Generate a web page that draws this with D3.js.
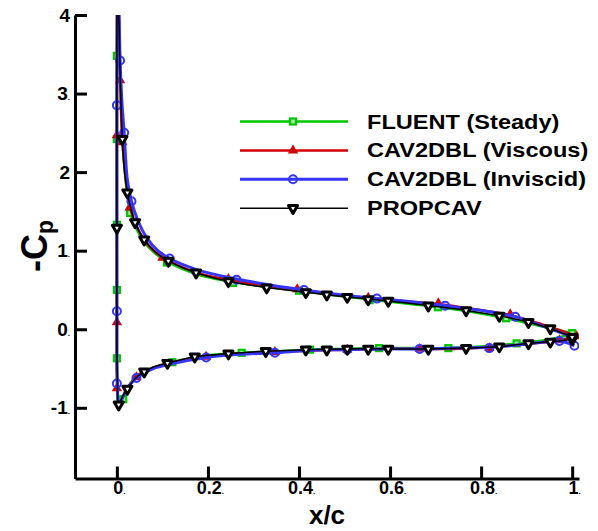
<!DOCTYPE html>
<html>
<head>
<meta charset="utf-8">
<script src="https://cdn.jsdelivr.net/npm/d3@7"></script>
<style>
  body { margin: 0; background: #fff; }
  svg { display: block; }
  text { font-family: "Liberation Sans", Arial, Helvetica, sans-serif; font-weight: bold; fill: #000; }
</style>
</head>
<body>
<svg id="chart" width="598" height="531"></svg>
<script>
// x/c and -Cp: lower surface TE -> LE, then round the nose and along the upper surface
const fluentLine = [[1.0,-0.06],[0.95,-0.13],[0.878,-0.18],[0.80,-0.22],[0.728,-0.24],[0.65,-0.24],[0.576,-0.24],[0.50,-0.25],[0.424,-0.26],[0.35,-0.28],[0.274,-0.30],[0.20,-0.33],[0.122,-0.42],[0.08,-0.49],[0.05,-0.57],[0.03,-0.69],[0.014,-0.88],[0.004,-0.98],
  [0.001,-0.6],[0.0,-0.37],[0.0,0.5],[0.0,1.33],[0.0,2.42],[0.0,3.48],[0.001,4.6],[0.004,4.0],[0.008,3.1],[0.013,2.35],[0.02,1.85],[0.029,1.5],[0.04,1.31],[0.06,1.11],[0.085,0.96],[0.11,0.86],[0.17,0.71],[0.255,0.60],[0.33,0.54],[0.40,0.49],[0.48,0.43],[0.555,0.38],[0.63,0.33],[0.705,0.28],[0.78,0.22],[0.855,0.14],[0.93,0.04],[1.0,-0.05]];
const fluentMarks = [[0.0,3.48],[0.0,2.42],[0.0,1.33],[0.0,0.50],[0.0,-0.37],[0.014,-0.89],[0.029,1.48],[0.11,0.85],[0.255,0.59],[0.40,0.49],[0.555,0.37],[0.705,0.28],[0.855,0.14],[1.0,-0.05],[0.122,-0.42],[0.274,-0.30],[0.424,-0.26],[0.576,-0.24],[0.728,-0.24],[0.878,-0.18]];

const viscousLine = [[1.01,-0.09],[0.972,-0.14],[0.90,-0.19],[0.818,-0.23],[0.74,-0.25],[0.665,-0.25],[0.58,-0.25],[0.506,-0.26],[0.42,-0.27],[0.347,-0.29],[0.27,-0.31],[0.196,-0.35],[0.12,-0.43],[0.08,-0.49],[0.043,-0.60],[0.02,-0.78],[0.005,-0.95],
  [0.001,-0.75],[0.0,0.09],[0.0,1.3],[0.0,2.47],[0.0,3.6],[0.001,4.6],[0.004,4.05],[0.007,3.2],[0.012,2.38],[0.02,1.88],[0.028,1.57],[0.04,1.36],[0.06,1.14],[0.085,0.98],[0.10,0.92],[0.17,0.73],[0.245,0.63],[0.32,0.56],[0.396,0.51],[0.47,0.45],[0.552,0.40],[0.63,0.36],[0.706,0.32],[0.79,0.25],[0.864,0.18],[0.94,0.05],[1.01,-0.09]];
const viscousMarks = [[0.007,3.17],[0.0,2.47],[0.012,2.38],[0.028,1.55],[0.10,0.91],[0.245,0.64],[0.396,0.51],[0.552,0.40],[0.706,0.33],[0.864,0.19],[1.01,-0.09],[0.0,0.09],[0.0,-0.75],[0.043,-0.61],[0.196,-0.35],[0.347,-0.29],[0.506,-0.26],[0.665,-0.25],[0.818,-0.24],[0.972,-0.14]];

const inviscidLine = [[1.005,-0.21],[0.972,-0.15],[0.90,-0.19],[0.818,-0.23],[0.74,-0.24],[0.665,-0.25],[0.58,-0.25],[0.506,-0.26],[0.42,-0.27],[0.347,-0.30],[0.27,-0.32],[0.196,-0.36],[0.12,-0.44],[0.08,-0.50],[0.043,-0.62],[0.02,-0.78],[0.005,-0.95],
  [0.001,-0.69],[0.0,0.23],[0.0,1.3],[0.0,2.85],[0.001,3.8],[0.002,4.6],[0.005,4.0],[0.007,3.42],[0.011,2.9],[0.016,2.5],[0.023,1.9],[0.032,1.63],[0.045,1.40],[0.065,1.17],[0.09,1.0],[0.116,0.90],[0.18,0.75],[0.263,0.64],[0.34,0.56],[0.411,0.50],[0.49,0.44],[0.571,0.39],[0.645,0.35],[0.721,0.30],[0.80,0.24],[0.875,0.16],[0.94,0.03],[1.01,-0.12]];
const inviscidMarks = [[0.007,3.42],[0.0,2.85],[0.016,2.50],[0.032,1.63],[0.116,0.90],[0.263,0.63],[0.411,0.50],[0.571,0.39],[0.721,0.30],[0.875,0.16],[0.0,0.23],[0.0,-0.69],[0.043,-0.62],[0.196,-0.36],[0.347,-0.30],[0.506,-0.26],[0.665,-0.25],[0.818,-0.24],[0.972,-0.15],[1.005,-0.21]];

const propcavLine = [[1.0,-0.13],[0.952,-0.16],[0.904,-0.18],[0.84,-0.22],[0.767,-0.24],[0.684,-0.25],[0.596,-0.25],[0.506,-0.25],[0.415,-0.26],[0.327,-0.28],[0.245,-0.31],[0.171,-0.35],[0.111,-0.43],[0.08,-0.48],[0.06,-0.54],[0.04,-0.63],[0.023,-0.76],[0.012,-0.86],[0.004,-0.96],
  [0.001,-0.6],[0.0,0.5],[0.0,1.29],[0.0,2.5],[0.0,3.5],[0.001,4.6],[0.004,4.1],[0.007,3.3],[0.012,2.42],[0.017,2.0],[0.023,1.74],[0.03,1.55],[0.04,1.36],[0.06,1.14],[0.085,0.98],[0.113,0.87],[0.174,0.72],[0.245,0.61],[0.329,0.53],[0.415,0.47],[0.506,0.41],[0.596,0.36],[0.684,0.30],[0.767,0.24],[0.84,0.17],[0.904,0.09],[0.952,0.01],[1.0,-0.10]];
const propcavMarks = [[1.0,-0.13],[0.952,-0.16],[0.904,-0.18],[0.84,-0.22],[0.767,-0.24],[0.684,-0.25],[0.596,-0.25],[0.552,-0.25],[0.506,-0.25],[0.461,-0.26],[0.415,-0.26],[0.327,-0.28],[0.245,-0.31],[0.171,-0.35],[0.111,-0.43],[0.06,-0.54],[0.023,-0.76],[0.004,-0.96],
  [0.0,1.29],[0.012,2.42],[0.023,1.74],[0.04,1.36],[0.06,1.14],[0.113,0.87],[0.174,0.72],[0.245,0.61],[0.329,0.53],[0.415,0.47],[0.461,0.44],[0.506,0.41],[0.552,0.38],[0.596,0.36],[0.684,0.30],[0.767,0.24],[0.84,0.17],[0.904,0.09],[0.952,0.01],[1.0,-0.10]];

const legendNames = ["FLUENT (Steady)", "CAV2DBL (Viscous)", "CAV2DBL (Inviscid)", "PROPCAV"];
const xMajor = [0, 0.2, 0.4, 0.6, 0.8, 1];
const xLabels = ["0", "0.2", "0.4", "0.6", "0.8", "1"];
const yMajor = [-1, 0, 1, 2, 3, 4];
const yLabels = ["-1", "0", "1", "2", "3", "4"];
const yDots = [true, true, true, false, true, false];

const svg = d3.select("#chart");
const x = d3.scaleLinear().domain([-0.092, 1.015]).range([75, 579]);
const y = d3.scaleLinear().domain([-1.9, 4]).range([478.5, 15]);

const xMinor = d3.range(-0.05, 1.0001, 0.05).filter(v => Math.abs(v * 5 - Math.round(v * 5)) > 1e-6);
const yMinor = d3.range(-1.8, 3.9, 0.2).filter(v => Math.abs(v - Math.round(v)) > 1e-6);

// axes, ticks pointing into the plot
const gx = svg.append("g").attr("transform", `translate(0,${y(-1.9)})`);
gx.call(d3.axisBottom(x).tickValues(xMinor).tickSizeInner(-6).tickSizeOuter(0).tickFormat(""));
gx.call(d3.axisBottom(x).tickValues(xMajor).tickSizeInner(-12).tickSizeOuter(0).tickPadding(3));
gx.selectAll(".tick text").each(function (d) {
  const t = d3.select(this).text(xLabels[xMajor.indexOf(d)]).attr("font-size", 18).attr("dx", 2);
  t.append("tspan").attr("font-size", 8).text(".");
});

const gy = svg.append("g").attr("transform", `translate(${x(-0.092)},0)`);
gy.call(d3.axisLeft(y).tickValues(yMinor).tickSizeInner(-6).tickSizeOuter(0).tickFormat(""));
gy.call(d3.axisLeft(y).tickValues(yMajor).tickSizeInner(-12).tickSizeOuter(0).tickPadding(5));
gy.selectAll(".tick text").each(function (d) {
  const k = yMajor.indexOf(d);
  const t = d3.select(this).text(yLabels[k]).attr("font-size", 19);
  if (yDots[k]) t.append("tspan").attr("font-size", 8).text(".");
});

svg.selectAll(".domain").attr("stroke", "#000").attr("stroke-width", 3);
svg.selectAll(".tick line").attr("stroke", "#000").attr("stroke-width", 1.5);
gx.selectAll(".tick").filter(d => xMajor.includes(d)).select("line").attr("stroke-width", 3);
gy.selectAll(".tick").filter(d => yMajor.includes(d)).select("line").attr("stroke-width", 3);

svg.append("text").attr("x", (x(-0.092) + x(1.015)) / 2).attr("y", 524)
  .attr("text-anchor", "middle").attr("font-size", 26).text("x/c");

const yt = svg.append("text").attr("transform", "translate(47,246) rotate(-90)")
  .attr("text-anchor", "middle");
yt.append("tspan").attr("font-size", 36).text("-C");
yt.append("tspan").attr("font-size", 23).attr("dy", 6).text("p");

// series
svg.append("clipPath").attr("id", "plotclip").append("rect")
  .attr("x", x(-0.092)).attr("y", y(4)).attr("width", x(1.015) - x(-0.092)).attr("height", y(-1.9) - y(4));

const line = d3.line().x(d => x(d[0])).y(d => y(d[1])).curve(d3.curveCatmullRom.alpha(0.5));

const series = [
  { line: fluentLine, marks: fluentMarks, color: "#00c800", width: 2.5, marker: "square" },
  { line: viscousLine, marks: viscousMarks, color: "#d20000", width: 2.5, marker: "triangle" },
  { line: inviscidLine, marks: inviscidMarks, color: "#3535ff", width: 3, marker: "circle" },
  { line: propcavLine, marks: propcavMarks, color: "#000000", width: 1.5, marker: "down" },
];

function marker(g, type, color, px, py) {
  if (type === "square") {
    g.append("rect").attr("x", px - 3).attr("y", py - 3).attr("width", 6).attr("height", 6)
      .attr("fill", "#9be89b").attr("stroke", color).attr("stroke-width", 2.2);
  } else if (type === "triangle") {
    g.append("path").attr("d", d3.symbol(d3.symbolTriangle, 46)())
      .attr("transform", `translate(${px},${py})`).attr("fill", color);
  } else if (type === "circle") {
    g.append("circle").attr("cx", px).attr("cy", py).attr("r", 4)
      .attr("fill", "none").attr("stroke", color).attr("stroke-width", 2);
  } else {
    g.append("path").attr("d", d3.symbol(d3.symbolTriangle, 36)())
      .attr("transform", `translate(${px},${py}) rotate(180)`)
      .attr("fill", "#fff").attr("stroke", color).attr("stroke-width", 3).attr("stroke-linejoin", "round");
  }
}

const plot = svg.append("g").attr("clip-path", "url(#plotclip)");
series.forEach(s => {
  plot.append("path").attr("d", line(s.line)).attr("fill", "none")
    .attr("stroke", s.color).attr("stroke-width", s.width).attr("stroke-linejoin", "round");
  s.marks.forEach(p => marker(plot, s.marker, s.color, x(p[0]), y(p[1])));
});

// legend
const lg = svg.append("g");
series.forEach((s, i) => {
  const ly = 121.5 + i * 28.9;
  lg.append("line").attr("x1", 240).attr("x2", 348).attr("y1", ly).attr("y2", ly)
    .attr("stroke", s.color).attr("stroke-width", s.width);
  marker(lg, s.marker, s.color, 293, ly);
  lg.append("text").attr("transform", `translate(367,${ly + 7}) scale(1.15,1)`)
    .attr("font-size", 20.5).text(legendNames[i]);
});
</script>
</body>
</html>
